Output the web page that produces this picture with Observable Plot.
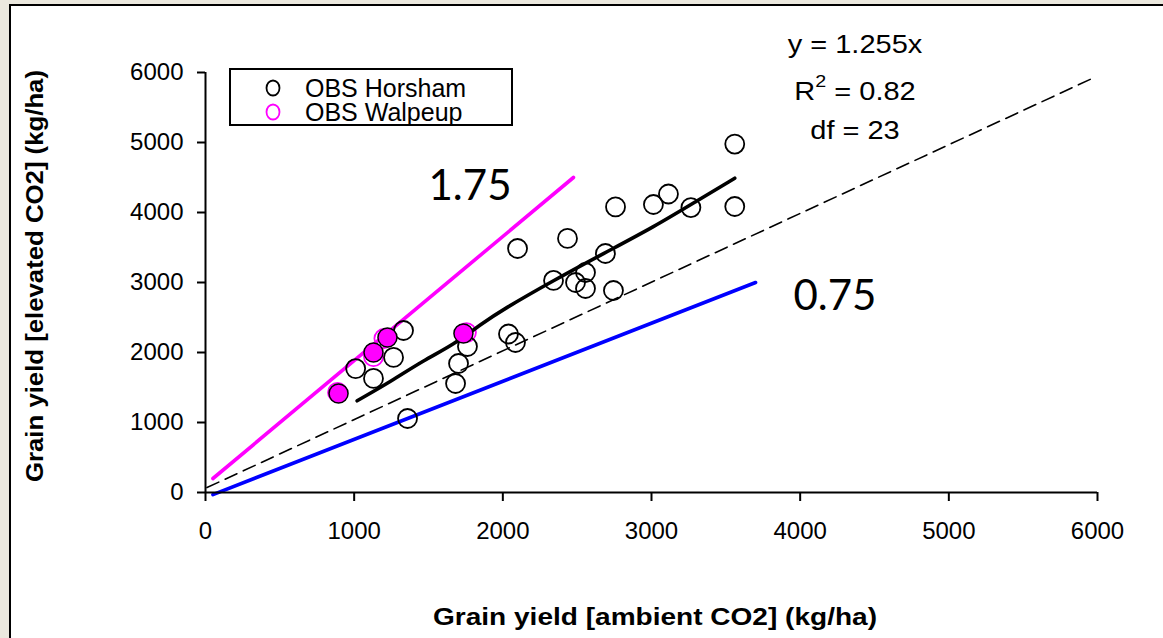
<!DOCTYPE html>
<html><head><meta charset="utf-8">
<script src="https://cdn.jsdelivr.net/npm/d3@7"></script>
<script src="https://cdn.jsdelivr.net/npm/@observablehq/plot@0.6"></script>
<style>
html,body{margin:0;padding:0;background:#ebe8de;width:1163px;height:638px;overflow:hidden}
#frame{position:absolute;left:9px;top:4px;width:1160px;height:640px;background:#fff;border-left:2px solid #000;border-top:2px solid #000;}
#chart{position:absolute;left:0;top:0}
</style></head><body><div id="frame"></div><div id="chart"></div>
<script>
// ---- data ----
const horshamX = [1010,1130,1265,1332,1359,1682,1702,1762,2038,2085,2099,2341,2435,2489,2556,2556,2690,2744,2758,3013,3114,3265,3560,3560];
const horshamY = [1770,1630,1930,2314,1057,1557,1843,2086,2264,2143,3486,3029,3630,3000,3143,2914,3414,2886,4080,4114,4264,4071,4978,4086];
const walpeupX = [888,1130,1200,1755];
const walpeupY = [1430,1940,2200,2285];
const filledX = [895,1130,1224,1735];
const filledY = [1414,2000,2214,2271];
const fitX = [1020,1250,1466,1668,1850,2005,2341,2677,3013,3310,3560];
const fitY = [1310,1590,1886,2110,2400,2620,3029,3414,3790,4171,4490];
const oneToOneX = [10,5990];
const oneToOneY = [70,5940];
const highX = [50,2475];
const highY = [200,4500];
const lowX = [50,3700];
const lowY = [-30,3000];
const xTicks = [0,1000,2000,3000,4000,5000,6000];
const yTicks = [0,1000,2000,3000,4000,5000,6000];
const slopeLabels = [{x:1500,y:4371,text:"1.75"},{x:3955,y:2800,text:"0.75"}];
const xTitle = "Grain yield [ambient CO2] (kg/ha)";
const yTitle = "Grain yield [elevated CO2] (kg/ha)";
const legendNames = ["OBS Horsham","OBS Walpeup"];
const legendColors = ["#000000","#ff00ff"];
const statLines = ["y = 1.255x","R|2| = 0.82","df = 23"];

const pts = (xs, ys) => xs.map((x,i)=>({x, y: ys[i]}));
const horsham = pts(horshamX, horshamY);
const walpeup = pts(walpeupX, walpeupY);
const filled = pts(filledX, filledY);
const fit = pts(fitX, fitY);
const oneToOne = pts(oneToOneX, oneToOneY);
const high = pts(highX, highY);
const low = pts(lowX, lowY);

const FONT = "'Liberation Sans', Arial, sans-serif";

const plot = Plot.plot({
  width: 1163, height: 638,
  marginLeft: 205, marginRight: 66, marginTop: 72, marginBottom: 146,
  style: {background: "transparent", fontFamily: FONT, color: "#000"},
  x: {domain: [0,6000]},
  y: {domain: [0,6000]},
  marks: [
    Plot.line(oneToOne, {x:"x", y:"y", stroke:"#000", strokeWidth:1.6, strokeDasharray:"13,7"}),
    Plot.line(low, {x:"x", y:"y", stroke:"#0000ff", strokeWidth:3.6}),
    Plot.line(high, {x:"x", y:"y", stroke:"#ff00ff", strokeWidth:3.6}),
    Plot.dot(walpeup, {x:"x", y:"y", r:9.5, stroke:"#ff00ff", strokeWidth:1.8}),
    Plot.dot(horsham, {x:"x", y:"y", r:9.5, stroke:"#000", strokeWidth:1.8}),
    Plot.line(fit, {x:"x", y:"y", stroke:"#000", strokeWidth:3.6, curve:"basis"}),
    Plot.dot(filled, {x:"x", y:"y", r:9.5, fill:"#ff00ff", stroke:"#000", strokeWidth:1.5}),
    Plot.ruleX([0], {stroke:"#000", strokeWidth:2}),
    Plot.ruleY([0], {stroke:"#000", strokeWidth:2}),
    Plot.axisX({ticks:xTicks, tickSize:9, tickPadding:20, strokeWidth:2, fontSize:24, tickFormat:d=>String(d), label:null}),
    Plot.axisY({ticks:yTicks, tickSize:8, tickPadding:14, strokeWidth:2, fontSize:24, tickFormat:d=>String(d), label:null}),
    Plot.text(slopeLabels, {x:"x", y:"y", text:"text", textAnchor:"start", lineAnchor:"middle", fontSize:42, fontFamily:"Lato, 'Open Sans', sans-serif", fill:"#000"})
  ]
});
document.getElementById("chart").appendChild(plot);

// titles, legend + stats annotation (frame-positioned text, not data)
const svg = d3.select(plot);
svg.append("text").attr("x",655).attr("y",625).attr("text-anchor","middle")
  .attr("font-family",FONT).attr("font-size",23).attr("font-weight","bold").attr("fill","#000")
  .attr("textLength",444).attr("lengthAdjust","spacingAndGlyphs").text(xTitle);
svg.append("text").attr("transform","translate(43,276) rotate(-90)").attr("text-anchor","middle")
  .attr("font-family",FONT).attr("font-size",23).attr("font-weight","bold").attr("fill","#000")
  .attr("textLength",412).attr("lengthAdjust","spacingAndGlyphs").text(yTitle);

const lg = svg.append("g");
lg.append("rect").attr("x",230).attr("y",69).attr("width",282).attr("height",56)
  .attr("fill","#fff").attr("stroke","#000").attr("stroke-width",2);
legendNames.forEach((name,i)=>{
  const cy = 88 + i*24;
  lg.append("ellipse").attr("cx",273).attr("cy",cy).attr("rx",6.5).attr("ry",7.5)
    .attr("fill","none").attr("stroke",legendColors[i]).attr("stroke-width",1.8);
  lg.append("text").attr("x",305).attr("y",cy+9).attr("text-anchor","start")
    .attr("font-size",25).attr("font-family",FONT).attr("fill","#000").text(name);
});
const st = svg.append("g").attr("font-family",FONT).attr("font-size",25).attr("fill","#000").attr("text-anchor","middle");
const baselines = [53,100,139];
statLines.forEach((s,i)=>{
  const t = st.append("text").attr("transform",`translate(855,${baselines[i]}) scale(1.16,1)`);
  const parts = s.split("|");
  if (parts.length === 3) {
    t.append("tspan").text(parts[0]);
    t.append("tspan").attr("dy",-13).attr("font-size",17).text(parts[1]);
    t.append("tspan").attr("dy",13).text(parts[2]);
  } else t.text(s);
});
</script>
</body></html>
